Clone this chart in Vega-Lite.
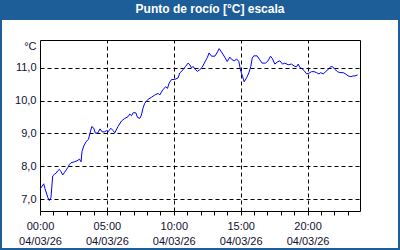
{
 "$schema": "https://vega.github.io/schema/vega-lite/v6.json",
 "width": 396,
 "height": 228,
 "autosize": {"type": "none"},
 "padding": {"left": 2, "top": 20, "right": 2, "bottom": 2},
 "background": "#1d5e99",
 "view": {"fill": "#ffffff", "stroke": null},
 "title": {"text": "Punto de rocío [°C] escala", "color": "#ffffff", "font": "Liberation Sans", "fontSize": 12, "fontWeight": "bold", "anchor": "middle", "frame": "group", "baseline": "alphabetic", "offset": -5, "dx": 10},
 "data": {"values": [
  {"h": 0, "v": 7.31}, {"h": 0.28, "v": 7.47}, {"h": 0.37, "v": 7.33}, {"h": 0.58, "v": 7.06}, {"h": 0.70, "v": 6.96},
  {"h": 0.82, "v": 7.06}, {"h": 0.95, "v": 7.71}, {"h": 1.08, "v": 7.76}, {"h": 1.20, "v": 7.79}, {"h": 1.32, "v": 7.86},
  {"h": 1.45, "v": 7.91}, {"h": 1.57, "v": 7.84}, {"h": 1.70, "v": 7.74}, {"h": 1.82, "v": 7.81}, {"h": 2.07, "v": 7.96},
  {"h": 2.20, "v": 8.06}, {"h": 2.32, "v": 8.11}, {"h": 2.57, "v": 8.14}, {"h": 2.77, "v": 8.17}, {"h": 2.95, "v": 8.22},
  {"h": 3.07, "v": 8.14}, {"h": 3.14, "v": 8.45}, {"h": 3.27, "v": 8.62}, {"h": 3.44, "v": 8.75}, {"h": 3.62, "v": 8.82},
  {"h": 3.74, "v": 9.01}, {"h": 3.87, "v": 9.21}, {"h": 4.02, "v": 9.16}, {"h": 4.14, "v": 9.01}, {"h": 4.32, "v": 9.02},
  {"h": 4.49, "v": 9.14}, {"h": 4.64, "v": 9.05}, {"h": 4.82, "v": 9.05}, {"h": 4.99, "v": 9.09}, {"h": 5.09, "v": 9.05},
  {"h": 5.29, "v": 9.16}, {"h": 5.46, "v": 9.09}, {"h": 5.59, "v": 9.02}, {"h": 5.83, "v": 9.21}, {"h": 6.09, "v": 9.38},
  {"h": 6.34, "v": 9.46}, {"h": 6.58, "v": 9.51}, {"h": 6.71, "v": 9.59}, {"h": 6.84, "v": 9.54}, {"h": 6.96, "v": 9.63},
  {"h": 7.16, "v": 9.63}, {"h": 7.29, "v": 9.49}, {"h": 7.46, "v": 9.46}, {"h": 7.58, "v": 9.56}, {"h": 7.70, "v": 9.77},
  {"h": 7.83, "v": 9.92}, {"h": 8.08, "v": 10.04}, {"h": 8.33, "v": 10.10}, {"h": 8.58, "v": 10.17}, {"h": 8.83, "v": 10.22},
  {"h": 8.95, "v": 10.17}, {"h": 9.20, "v": 10.34}, {"h": 9.40, "v": 10.42}, {"h": 9.53, "v": 10.37}, {"h": 9.65, "v": 10.53},
  {"h": 9.83, "v": 10.64}, {"h": 10.07, "v": 10.64}, {"h": 10.32, "v": 10.69}, {"h": 10.45, "v": 10.84}, {"h": 10.70, "v": 10.94},
  {"h": 10.88, "v": 11.04}, {"h": 11.07, "v": 11.14}, {"h": 11.20, "v": 11.09}, {"h": 11.32, "v": 10.99}, {"h": 11.44, "v": 11.04},
  {"h": 11.62, "v": 10.94}, {"h": 11.77, "v": 10.89}, {"h": 11.94, "v": 10.94}, {"h": 12.12, "v": 11.01}, {"h": 12.32, "v": 11.17},
  {"h": 12.52, "v": 11.32}, {"h": 12.64, "v": 11.45}, {"h": 12.82, "v": 11.35}, {"h": 13.07, "v": 11.35}, {"h": 13.27, "v": 11.48},
  {"h": 13.39, "v": 11.58}, {"h": 13.61, "v": 11.45}, {"h": 13.81, "v": 11.32}, {"h": 13.99, "v": 11.19}, {"h": 14.19, "v": 11.32},
  {"h": 14.36, "v": 11.24}, {"h": 14.56, "v": 11.21}, {"h": 14.69, "v": 11.27}, {"h": 14.86, "v": 11.19}, {"h": 15.01, "v": 10.89},
  {"h": 15.14, "v": 10.74}, {"h": 15.26, "v": 10.57}, {"h": 15.44, "v": 10.69}, {"h": 15.61, "v": 10.84}, {"h": 15.76, "v": 11.04},
  {"h": 15.86, "v": 11.29}, {"h": 15.98, "v": 11.36}, {"h": 16.23, "v": 11.36}, {"h": 16.43, "v": 11.24}, {"h": 16.60, "v": 11.14},
  {"h": 16.86, "v": 11.14}, {"h": 17.05, "v": 11.21}, {"h": 17.23, "v": 11.35}, {"h": 17.38, "v": 11.27}, {"h": 17.55, "v": 11.11},
  {"h": 17.73, "v": 11.17}, {"h": 17.93, "v": 11.21}, {"h": 18.13, "v": 11.11}, {"h": 18.30, "v": 11.14}, {"h": 18.55, "v": 11.09},
  {"h": 18.80, "v": 11.11}, {"h": 19.05, "v": 11.04}, {"h": 19.18, "v": 11.03}, {"h": 19.30, "v": 11.11}, {"h": 19.42, "v": 11.01},
  {"h": 19.55, "v": 10.98}, {"h": 19.75, "v": 10.91}, {"h": 19.93, "v": 10.81}, {"h": 20.10, "v": 10.83}, {"h": 20.30, "v": 10.88},
  {"h": 20.49, "v": 10.88}, {"h": 20.67, "v": 10.85}, {"h": 20.85, "v": 10.81}, {"h": 20.99, "v": 10.85}, {"h": 21.17, "v": 10.81},
  {"h": 21.35, "v": 10.88}, {"h": 21.54, "v": 10.95}, {"h": 21.74, "v": 11.03}, {"h": 21.87, "v": 11.03}, {"h": 22.04, "v": 10.95},
  {"h": 22.24, "v": 10.88}, {"h": 22.42, "v": 10.85}, {"h": 22.66, "v": 10.85}, {"h": 22.84, "v": 10.81}, {"h": 23.04, "v": 10.75},
  {"h": 23.24, "v": 10.73}, {"h": 23.41, "v": 10.75}, {"h": 23.54, "v": 10.75}, {"h": 23.74, "v": 10.78}
 ]},
 "resolve": {"axis": {"x": "independent", "y": "independent"}},
 "layer": [
  {
   "mark": {"type": "line", "opacity": 0},
   "encoding": {
    "x": {"field": "h", "type": "quantitative",
     "scale": {"domain": [0, 23.92], "range": [38, 358], "nice": false, "zero": false},
     "axis": {"orient": "bottom", "offset": -37, "values": [0,1,2,3,4,5,6,7,8,9,10,11,12,13,14,15,16,17,18,19,20,21,22,23],
      "grid": false, "tickSize": 4, "labelPadding": 5, "labelLineHeight": 15, "labelOverlap": false, "labelFlush": false, "labelBound": false,
      "labelExpr": "datum.value % 5 == 0 ? [format(datum.value, '02d') + ':00', '04/03/26'] : ''", "title": null}},
    "y": {"field": "v", "type": "quantitative",
     "scale": {"domain": [6.644, 11.842], "range": [191, 20], "nice": false, "zero": false},
     "axis": {"orient": "left", "offset": -38, "values": [7, 8, 9, 10, 11], "grid": true, "ticks": false, "tickSize": 0, "labelPadding": 4,
      "labelExpr": "replace(format(datum.value, '.1f'), '.', ',')",
      "title": "°C", "titleAngle": 0, "titleAlign": "right", "titleBaseline": "middle", "titleX": -4, "titleY": 26,
      "titleFont": "Liberation Sans", "titleFontSize": 11, "titleFontWeight": "normal", "titleColor": "#101030"}}
   }
  },
  {
   "mark": {"type": "line", "color": "#0000ff", "strokeWidth": 1},
   "encoding": {
    "x": {"field": "h", "type": "quantitative",
     "scale": {"domain": [0, 23.92], "range": [38, 358], "nice": false, "zero": false},
     "axis": {"orient": "top", "offset": -20, "values": [5, 10, 15, 20], "grid": true, "ticks": false, "labels": false, "title": null}},
    "y": {"field": "v", "type": "quantitative",
     "scale": {"domain": [6.644, 11.842], "range": [191, 20], "nice": false, "zero": false},
     "axis": {"orient": "right", "offset": -38, "grid": false, "ticks": false, "labels": false, "title": null}}
   }
  }
 ],
 "config": {
  "axis": {"labelFont": "Liberation Sans", "labelFontSize": 11, "labelColor": "#101030",
   "domainColor": "#000000", "domainWidth": 1, "tickColor": "#000000", "tickWidth": 1,
   "gridColor": "#000000", "gridDash": [4, 3], "gridOpacity": 1, "gridWidth": 1}
 }
}
